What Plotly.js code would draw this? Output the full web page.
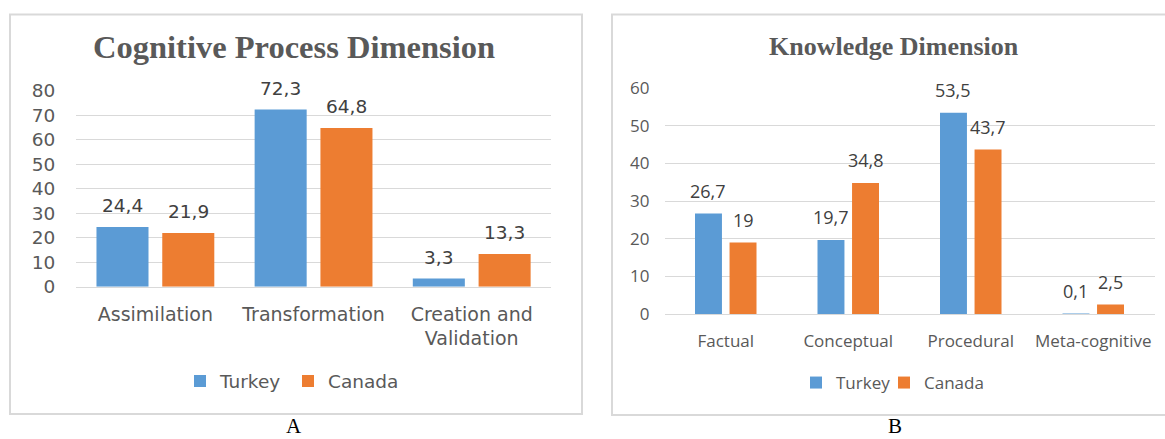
<!DOCTYPE html>
<html><head><meta charset="utf-8">
<script src="https://cdn.plot.ly/plotly-3.0.1.min.js"></script>
<style>html,body{margin:0;padding:0;background:#fff;overflow:hidden;} #chart{width:1165px;height:439px;}</style>
</head><body><div id="chart"></div>
<script>
// ---- data ----
const cognitiveCategories = ['Assimilation', 'Transformation', 'Creation and<br>Validation'];
const cognitiveTurkey = [24.4, 72.3, 3.3];
const cognitiveCanada = [21.9, 64.8, 13.3];
const knowledgeCategories = ['Factual', 'Conceptual', 'Procedural', 'Meta-cognitive'];
const knowledgeTurkey = [26.7, 19.7, 53.5, 0.1];
const knowledgeCanada = [19, 34.8, 43.7, 2.5];
const seriesNames = ['Turkey', 'Canada'];
const cognitiveTicks = [0, 10, 20, 30, 40, 50, 60, 70, 80];
const knowledgeTicks = [0, 10, 20, 30, 40, 50, 60];
const panelTitles = ['Cognitive Process Dimension', 'Knowledge Dimension'];
const panelLetters = ['A', 'B'];

// ---- styling / layout helpers ----
const W = 1165, H = 439;
const px = v => v / W;
const py = v => 1 - v / H;
const BLUE = '#5B9BD5', ORANGE = '#ED7D31';
const GRID = '#d9d9d9', TXT = '#595959', LBL = '#404040';
const fmt = v => String(v).replace('.', ',');

// bar geometry (category-index units)
const A = {w: 0.329, c: 0.208};
const B = {w: 0.22, c: 0.141};

function barTrace(cats, vals, name, color, geom, side, xa, ya, legend, lw) {
  const t = {
    type: 'bar', x: cats, y: vals, name: name, xaxis: xa, yaxis: ya,
    legend: legend, showlegend: true,
    width: geom.w, offset: side * geom.c - geom.w / 2,
    marker: {color: color, line: {width: 0}},
    hoverinfo: 'skip'
  };
  if (lw) t.legendwidth = lw;
  return t;
}

const data = [
  barTrace(cognitiveCategories, cognitiveTurkey, seriesNames[0], BLUE, A, -1, 'x', 'y', 'legend', 63),
  barTrace(cognitiveCategories, cognitiveCanada, seriesNames[1], ORANGE, A, 1, 'x', 'y', 'legend', 0),
  barTrace(knowledgeCategories, knowledgeTurkey, seriesNames[0], BLUE, B, -1, 'x2', 'y2', 'legend2', 43),
  barTrace(knowledgeCategories, knowledgeCanada, seriesNames[1], ORANGE, B, 1, 'x2', 'y2', 'legend2', 0)
];

const annotations = [];
function addLabels(vals, geom, side, xref, yref, font) {
  vals.forEach((v, i) => {
    annotations.push({
      x: i + side * geom.c, y: v, xref: xref, yref: yref,
      text: fmt(v), showarrow: false, yanchor: 'bottom', xanchor: 'center',
      yshift: 9, font: font
    });
  });
}
const fontA = {family: 'DejaVu Sans', size: 18.5, color: LBL};
const fontB = {family: 'Open Sans', size: 18, color: LBL};
addLabels(cognitiveTurkey, A, -1, 'x', 'y', fontA);
addLabels(cognitiveCanada, A, 1, 'x', 'y', fontA);
addLabels(knowledgeTurkey, B, -1, 'x2', 'y2', fontB);
addLabels(knowledgeCanada, B, 1, 'x2', 'y2', fontB);

annotations.push({xref: 'paper', yref: 'paper', x: px(294), y: py(47), xanchor: 'center', yanchor: 'middle',
  text: panelTitles[0], showarrow: false,
  font: {family: 'Liberation Serif', size: 32.5, color: TXT, weight: 700}});
annotations.push({xref: 'paper', yref: 'paper', x: px(894), y: py(46), xanchor: 'center', yanchor: 'middle',
  text: panelTitles[1], showarrow: false,
  font: {family: 'Liberation Serif', size: 26, color: TXT, weight: 700}});
annotations.push({xref: 'paper', yref: 'paper', x: px(294), y: 0, xanchor: 'center', yanchor: 'bottom',
  borderpad: 0, text: panelLetters[0], showarrow: false,
  font: {family: 'Liberation Serif', size: 21, color: '#000'}});
annotations.push({xref: 'paper', yref: 'paper', x: px(895), y: 0, xanchor: 'center', yanchor: 'bottom',
  borderpad: 0, text: panelLetters[1], showarrow: false,
  font: {family: 'Liberation Serif', size: 21, color: '#000'}});

const shapes = [
  {type: 'rect', xref: 'paper', yref: 'paper', x0: px(10), x1: px(582), y0: py(414), y1: py(14.5),
   line: {color: GRID, width: 2}, layer: 'below'},
  {type: 'rect', xref: 'paper', yref: 'paper', x0: px(612), x1: px(1180), y0: py(415), y1: py(14.5),
   line: {color: GRID, width: 2}, layer: 'below'}
];

const layout = {
  width: W, height: H,
  margin: {l: 0, r: 0, t: 0, b: 0},
  paper_bgcolor: '#fff', plot_bgcolor: 'rgba(0,0,0,0)',
  barmode: 'overlay',
  showlegend: true,
  xaxis: {domain: [px(76.3), px(550.8)], type: 'category', range: [-0.5, 2.5],
    showgrid: false, zeroline: false, showline: true, linecolor: GRID, linewidth: 1,
    ticks: '', ticklabelstandoff: 10, tickfont: {family: 'DejaVu Sans', size: 19, color: TXT}, fixedrange: true},
  yaxis: {domain: [py(286.7), py(90.7)], range: [0, 80], tickvals: cognitiveTicks,
    showgrid: true, gridcolor: GRID, gridwidth: 1, zeroline: false, showline: false,
    ticks: '', ticklabelstandoff: 20, tickfont: {family: 'DejaVu Sans', size: 18.5, color: TXT}, fixedrange: true},
  xaxis2: {domain: [px(664.5), px(1154.5)], type: 'category', range: [-0.5, 3.5], anchor: 'y2',
    showgrid: false, zeroline: false, showline: true, linecolor: GRID, linewidth: 1,
    ticks: '', ticklabelstandoff: 12, tickfont: {family: 'Open Sans', size: 17, color: TXT}, fixedrange: true},
  yaxis2: {domain: [py(314), py(88.3)], range: [0, 60], tickvals: knowledgeTicks, anchor: 'x2',
    showgrid: true, gridcolor: GRID, gridwidth: 1, zeroline: false, showline: false,
    ticks: '', ticklabelstandoff: 14, tickfont: {family: 'Open Sans', size: 17, color: TXT}, fixedrange: true},
  legend: {orientation: 'h', x: px(180), xanchor: 'left', y: py(381.5), yanchor: 'middle',
    font: {family: 'DejaVu Sans', size: 18.5, color: TXT}, bgcolor: 'rgba(0,0,0,0)', traceorder: 'normal'},
  legend2: {orientation: 'h', x: px(796), xanchor: 'left', y: py(383), yanchor: 'middle',
    font: {family: 'Open Sans', size: 17, color: TXT}, bgcolor: 'rgba(0,0,0,0)', traceorder: 'normal'},
  annotations: annotations,
  shapes: shapes
};

Plotly.newPlot('chart', data, layout, {displayModeBar: false, staticPlot: true});
</script>
</body></html>
